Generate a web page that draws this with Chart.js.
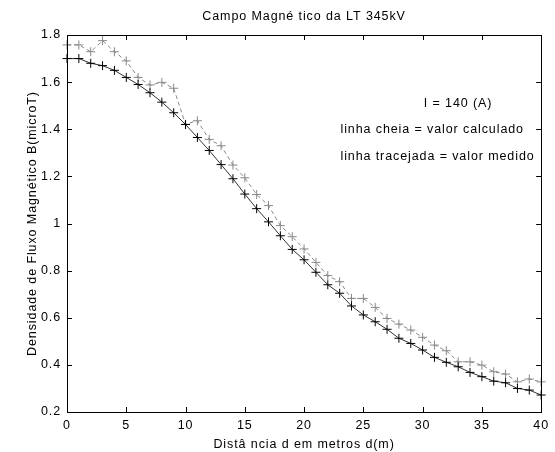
<!DOCTYPE html>
<html>
<head>
<meta charset="utf-8">
<script src="https://cdn.jsdelivr.net/npm/chart.js@4/dist/chart.umd.min.js"></script>
<style>
  html, body { margin: 0; padding: 0; background: #fff; }
  #wrap { width: 555px; height: 452px; }
</style>
</head>
<body>
<div id="wrap"><canvas id="campo"></canvas></div>
<script>
// distance from the line axis, metres
var distancia = [0, 1, 2, 3, 4, 5, 6, 7, 8, 9, 10, 11, 12, 13, 14, 15, 16, 17, 18, 19, 20,
                 21, 22, 23, 24, 25, 26, 27, 28, 29, 30, 31, 32, 33, 34, 35, 36, 37, 38, 39, 40];

// linha cheia = valor calculado (microT)
var calculado = [1.70, 1.70, 1.68, 1.67, 1.65, 1.62, 1.59, 1.555, 1.515, 1.47, 1.42,
                 1.365, 1.31, 1.25, 1.19, 1.125, 1.063, 1.007, 0.948, 0.89, 0.846,
                 0.793, 0.74, 0.704, 0.65, 0.612, 0.583, 0.551, 0.513, 0.491, 0.463,
                 0.432, 0.411, 0.392, 0.368, 0.35, 0.331, 0.324, 0.30, 0.293, 0.272];

// linha tracejada = valor medido (microT)
var medido = [1.758, 1.758, 1.729, 1.776, 1.729, 1.69, 1.62, 1.588, 1.599, 1.574, 1.421,
              1.436, 1.357, 1.33, 1.248, 1.194, 1.123, 1.076, 0.991, 0.944, 0.892,
              0.835, 0.779, 0.753, 0.682, 0.682, 0.644, 0.597, 0.573, 0.548, 0.517,
              0.484, 0.46, 0.413, 0.413, 0.399, 0.371, 0.361, 0.328, 0.34, 0.328];

var xTicks = [0, 5, 10, 15, 20, 25, 30, 35, 40];
var yTicks = [0.2, 0.4, 0.6, 0.8, 1, 1.2, 1.4, 1.6, 1.8];

var titulo = 'Campo Magné tico da LT 345kV';
var notas = [
    { text: 'I = 140 (A)', x: 30.1, y: 1.51 },
    { text: 'linha cheia = valor calculado', x: 23.07, y: 1.40 },
    { text: 'linha tracejada = valor medido', x: 23.07, y: 1.285 }
];

var fonte = 'Liberation Sans, Arial, sans-serif';
var espaco = '0.9px';

function pares(ys) {
    return distancia.map(function (d, i) { return { x: d, y: ys[i] }; });
}

// MATLAB style box, inward ticks, title and text notes
var moldura = {
    id: 'moldura',
    beforeLayout: function (chart) { chart.ctx.letterSpacing = espaco; },
    beforeDraw: function (chart) { chart.ctx.letterSpacing = espaco; },
    afterDraw: function (chart) {
        var c = chart.ctx, a = chart.chartArea;
        var sx = chart.scales.x, sy = chart.scales.y;
        c.save();
        c.strokeStyle = '#000';
        c.lineWidth = 1;
        c.strokeRect(Math.round(a.left) + 0.5, Math.round(a.top) + 0.5,
                     Math.round(a.right - a.left), Math.round(a.bottom - a.top));
        c.beginPath();
        xTicks.forEach(function (t) {
            var px = Math.round(sx.getPixelForValue(t)) + 0.5;
            c.moveTo(px, a.bottom); c.lineTo(px, a.bottom - 5);
            c.moveTo(px, a.top); c.lineTo(px, a.top + 5);
        });
        yTicks.forEach(function (t) {
            var py = Math.round(sy.getPixelForValue(t)) + 0.5;
            c.moveTo(a.left, py); c.lineTo(a.left + 5, py);
            c.moveTo(a.right, py); c.lineTo(a.right - 5, py);
        });
        c.stroke();

        c.letterSpacing = espaco;
        c.fillStyle = '#000';
        c.font = '12.5px ' + fonte;
        c.textAlign = 'center';
        c.textBaseline = 'middle';
        c.fillText(titulo, (a.left + a.right) / 2, 17);

        c.textAlign = 'left';
        notas.forEach(function (n) {
            c.fillText(n.text, sx.getPixelForValue(n.x), sy.getPixelForValue(n.y));
        });
        c.restore();
    }
};

var ctx = document.getElementById('campo');
var grafico = new Chart(ctx, {
    type: 'line',
    data: {
        datasets: [{
            label: 'valor calculado',
            data: pares(calculado),
            borderColor: '#333',
            borderWidth: 1,
            pointStyle: 'cross',
            pointRadius: 4.5,
            pointBorderColor: '#000',
            pointBorderWidth: 1,
            tension: 0,
            clip: false
        }, {
            label: 'valor medido',
            data: pares(medido),
            borderColor: '#8a8a8a',
            borderWidth: 1,
            borderDash: [4, 3],
            pointStyle: 'cross',
            pointRadius: 4.5,
            pointBorderColor: '#888',
            pointBorderWidth: 1,
            tension: 0,
            clip: false
        }]
    },
    options: {
        responsive: true,
        maintainAspectRatio: false,
        animation: false,
        devicePixelRatio: 1,
        layout: { padding: { top: 35, right: 6, left: 0, bottom: 0 } },
        plugins: {
            legend: { display: false },
            tooltip: { enabled: false }
        },
        scales: {
            x: {
                type: 'linear',
                min: 0,
                max: 40,
                afterBuildTicks: function (s) { s.ticks = xTicks.map(function (v) { return { value: v }; }); },
                afterFit: function (s) { s.height = 40; },
                grid: { display: false, drawTicks: false },
                border: { display: false },
                ticks: {
                    color: '#000',
                    padding: 6,
                    maxRotation: 0,
                    font: { family: fonte, size: 12.5 },
                    callback: function (v) { return String(v); }
                },
                title: {
                    display: true,
                    text: 'Distâ ncia d em metros d(m)',
                    color: '#000',
                    font: { family: fonte, size: 12.5 },
                    padding: { top: 0, bottom: 0 }
                }
            },
            y: {
                type: 'linear',
                min: 0.2,
                max: 1.8,
                afterBuildTicks: function (s) { s.ticks = yTicks.map(function (v) { return { value: v }; }); },
                afterFit: function (s) { s.width = 67; },
                grid: { display: false, drawTicks: false },
                border: { display: false },
                ticks: {
                    color: '#000',
                    padding: 6,
                    font: { family: fonte, size: 12.5 },
                    callback: function (v) { return String(v); }
                },
                title: {
                    display: true,
                    text: 'Densidade de Fluxo Magnético B(microT)',
                    color: '#000',
                    font: { family: fonte, size: 12.5 },
                    padding: { top: 25, bottom: 0 }
                }
            }
        }
    },
    plugins: [moldura]
});
</script>
</body>
</html>
